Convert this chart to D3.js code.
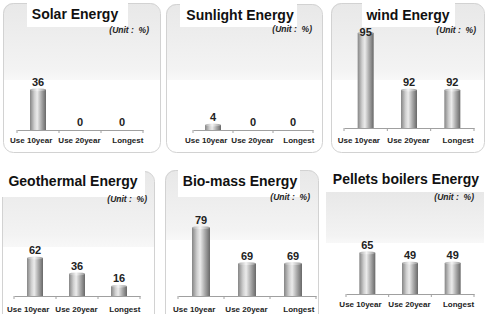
<!DOCTYPE html>
<html>
<head>
<meta charset="utf-8">
<script src="https://cdn.jsdelivr.net/npm/d3@7"></script>
<style>
  body { margin: 0; background: #fff; }
  text { font-family: "Liberation Sans", Arial, sans-serif; }
</style>
</head>
<body>
<svg id="chart"></svg>
<script>
let width = 487;
let height = 314;

// data
let titles = ["Solar Energy", "Sunlight Energy", "wind Energy", "Geothermal Energy", "Bio-mass Energy", "Pellets boilers Energy"];
let categories = ["Use 10year", "Use 20year", "Longest"];
let solar = [36, 0, 0];
let sunlight = [4, 0, 0];
let wind = [95, 92, 92];
let geothermal = [62, 36, 16];
let biomass = [79, 69, 69];
let pellets = [65, 49, 49];
let unitLabel = "(Unit :  %)";
// each small chart has its own value scale in the original
let yDomains = [[0, 85], [0, 76], [90, 95], [0, 155], [60, 86.4], [0, 150]];

let series = [solar, sunlight, wind, geothermal, biomass, pellets];

// panel frames, title boxes and plot areas (pixels)
let layout = [
  {box: [3, 3, 157, 149], border: true, tbox: [27, 3, 101, 24], tx: 75, ty: 19, gray: [27, 80], ax: [17, 143], base: 130, unit: [149, 33], labY: 143},
  {box: [166, 4, 156, 148], border: true, tbox: [180, 4, 117, 23], tx: 240, ty: 20, gray: [27, 80], ax: [193, 313], base: 130, unit: [312, 32], labY: 143},
  {box: [331, 3, 153, 149], border: true, tbox: [362, 3, 93, 24], tx: 408, ty: 20, gray: [27, 80], ax: [344, 474], base: 128, unit: [476, 33], labY: 143},
  {box: [2, 171, 152, 160], border: true, tbox: [2, 171, 143, 26], tx: 73, ty: 186, gray: [197, 247], ax: [14, 140], base: 296, unit: [147, 202], labY: 312},
  {box: [165, 170, 153, 160], border: true, tbox: [178, 170, 122, 27], tx: 240, ty: 186, gray: [197, 240], ax: [178, 316], base: 296, unit: [310, 200], labY: 312},
  {box: [326, 170, 158, 160], border: false, tbox: [330, 170, 154, 22], tx: 406, ty: 184, gray: [192, 243], ax: [346, 474], base: 294, unit: [474, 200], labY: 307}
];

let svg = d3.select('#chart')
  .attr('width', width)
  .attr('height', height);

let defs = svg.append('defs');

let barGrad = defs.append('linearGradient')
  .attr('id', 'barGrad')
  .attr('x1', 0).attr('x2', 1).attr('y1', 0).attr('y2', 0);
[[0, '#858585'], [0.28, '#cfcfcf'], [0.45, '#ebebeb'], [0.7, '#adadad'], [1, '#686868']]
  .forEach(s => barGrad.append('stop').attr('offset', s[0]).attr('stop-color', s[1]));

let capGrad = defs.append('linearGradient')
  .attr('id', 'capGrad')
  .attr('x1', 0).attr('x2', 1).attr('y1', 0).attr('y2', 0);
[[0, '#a8a8a8'], [0.45, '#f4f4f4'], [1, '#959595']]
  .forEach(s => capGrad.append('stop').attr('offset', s[0]).attr('stop-color', s[1]));

let grayGrad = defs.append('linearGradient')
  .attr('id', 'grayGrad')
  .attr('x1', 0).attr('x2', 0).attr('y1', 0).attr('y2', 1);
[[0, '#e8e8e8'], [0.85, '#f3f3f3'], [1, '#f8f8f8']]
  .forEach(s => grayGrad.append('stop').attr('offset', s[0]).attr('stop-color', s[1]));

titles.forEach((t, i) => drawPanel(t, series[i], yDomains[i], layout[i], i));

function drawPanel(title, values, domain, L, i) {
  let g = svg.append('g');
  let [bx, by, bw, bh] = L.box;

  let clipId = 'clip' + i;
  defs.append('clipPath').attr('id', clipId)
    .append('rect')
    .attr('x', bx).attr('y', by).attr('width', bw).attr('height', bh)
    .attr('rx', 10);

  // background: gray band under the title, white below
  g.append('rect')
    .attr('x', bx)
    .attr('y', L.border ? by : L.gray[0])
    .attr('width', bw)
    .attr('height', L.gray[1] - (L.border ? by : L.gray[0]))
    .attr('fill', 'url(#grayGrad)')
    .attr('clip-path', L.border ? `url(#${clipId})` : null);

  if (L.border) {
    g.append('rect')
      .attr('x', bx + 0.5).attr('y', by + 0.5)
      .attr('width', bw).attr('height', bh)
      .attr('rx', 10)
      .attr('fill', 'none')
      .attr('stroke', '#d2d2d2');
  }

  // white title box
  g.append('rect')
    .attr('x', L.tbox[0]).attr('y', L.tbox[1])
    .attr('width', L.tbox[2]).attr('height', L.tbox[3])
    .attr('fill', '#fff');

  g.append('text')
    .attr('x', L.tx).attr('y', L.ty)
    .attr('text-anchor', 'middle')
    .attr('font-size', 14)
    .attr('font-weight', 'bold')
    .attr('fill', '#111')
    .text(title);

  g.append('text')
    .attr('x', L.unit[0]).attr('y', L.unit[1])
    .attr('text-anchor', 'end')
    .attr('font-size', 8.5)
    .attr('font-weight', 'bold')
    .attr('font-style', 'italic')
    .attr('fill', '#222')
    .style('white-space', 'pre')
    .text(unitLabel);

  let x = d3.scaleBand()
    .domain(categories)
    .range(L.ax);
  // category labels sit a little wider apart than the bars
  let xl = d3.scaleBand()
    .domain(categories)
    .range([L.ax[0] - 10, L.ax[1] + 9]);
  let plotTop = L.base - 95;
  let y = d3.scaleLinear()
    .domain(domain)
    .range([L.base, plotTop]);

  // axis line with ticks between categories
  let axis = d3.axisBottom(x).tickSize(0).tickFormat('');
  let ag = g.append('g')
    .attr('transform', `translate(0,${L.base})`)
    .call(axis);
  ag.select('.domain').attr('stroke', '#a0a0a0');
  ag.selectAll('.tick').remove();
  let bounds = [L.ax[0], ...categories.map(c => x(c) + x.bandwidth())];
  ag.selectAll('line.sep')
    .data(bounds)
    .join('line')
    .attr('class', 'sep')
    .attr('x1', d => d).attr('x2', d => d)
    .attr('y1', 0).attr('y2', 3)
    .attr('stroke', '#a0a0a0');

  let barW = i === 4 ? 18 : 16;
  let bars = g.append('g');
  values.forEach((v, j) => {
    let cx = x(categories[j]) + x.bandwidth() / 2;
    let top = y(v);
    let h = L.base - top;
    if (h > 0.5) {
      bars.append('rect')
        .attr('x', cx - barW / 2).attr('y', top)
        .attr('width', barW).attr('height', h)
        .attr('fill', 'url(#barGrad)');
      bars.append('ellipse')
        .attr('cx', cx).attr('cy', top)
        .attr('rx', barW / 2).attr('ry', 1.5)
        .attr('fill', 'url(#capGrad)');
    }
    g.append('text')
      .attr('x', cx)
      .attr('y', Math.max(top - 4, plotTop + 3))
      .attr('text-anchor', 'middle')
      .attr('font-size', 11)
      .attr('font-weight', 'bold')
      .attr('fill', '#222')
      .text(v);
    g.append('text')
      .attr('x', xl(categories[j]) + xl.bandwidth() / 2)
      .attr('y', L.labY)
      .attr('text-anchor', 'middle')
      .attr('font-size', 8)
      .attr('font-weight', 'bold')
      .attr('fill', '#222')
      .text(categories[j]);
  });
}
</script>
</body>
</html>
